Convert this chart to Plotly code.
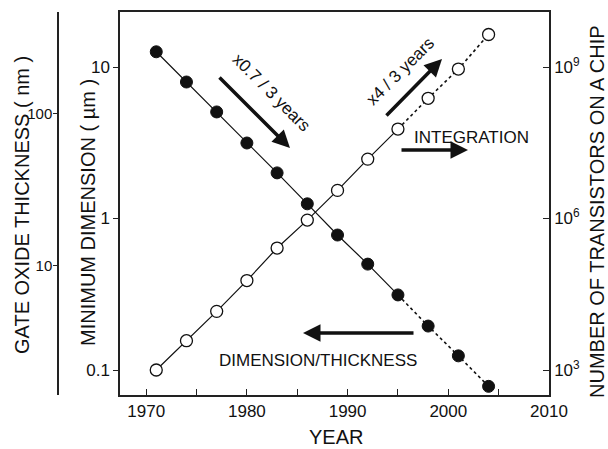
import plotly.graph_objects as go

years = [1971, 1974, 1977, 1980, 1983, 1986, 1989, 1992, 1995, 1998, 2001, 2004]
min_dim_um = [12.6, 7.96, 5.05, 3.15, 2.0, 1.25, 0.778, 0.50, 0.313, 0.195, 0.124, 0.078]
transistors = [1.0e3, 3.8e3, 1.45e4, 5.9e4, 2.6e5, 9.3e5, 3.6e6, 1.5e7, 5.9e7, 2.4e8, 9.1e8, 4.4e9]
split = 8  # solid up to 1995, dotted afterwards

x_ticks = [1970, 1980, 1990, 2000, 2010]
x_ticktext = ["1970", "1980", "1990", "2000", "2010"]
x_minor = [1975, 1985, 1995, 2005]
dim_ticks = [0.1, 1, 10]
dim_ticktext = ["0.1", "1", "10"]
ox_ticks = [10, 100]
ox_ticktext = ["10", "100"]
tr_ticks = [1e3, 1e6, 1e9]
tr_ticktext = ["10<sup>3</sup>", "10<sup>6</sup>", "10<sup>9</sup>"]

W, H = 608, 449
L, R, T, B = 120, 549, 12, 395
OX_X = 59
FONT = "Liberation Sans, Arial, Helvetica, sans-serif"
INK = "#111111"

dim_range = [-1.165, 1.363]
ox_shift = 1.31
tr_range = [3 * dim_range[0] + 6, 3 * dim_range[1] + 6]


def px(x):
    return x / W


def py(y):
    return (B - y) / (B - T)


fig = go.Figure()

line_style = dict(color=INK, width=1.2)
dot_style = dict(color=INK, width=1.6, dash="dot")
fig.add_trace(go.Scatter(x=years[:split + 1], y=min_dim_um[:split + 1], mode="lines",
                         line=line_style, xaxis="x", yaxis="y", showlegend=False))
fig.add_trace(go.Scatter(x=years[split:], y=min_dim_um[split:], mode="lines",
                         line=dot_style, xaxis="x", yaxis="y", showlegend=False))
fig.add_trace(go.Scatter(x=years[:split + 1], y=transistors[:split + 1], mode="lines",
                         line=line_style, xaxis="x", yaxis="y2", showlegend=False))
fig.add_trace(go.Scatter(x=years[split:], y=transistors[split:], mode="lines",
                         line=dot_style, xaxis="x", yaxis="y2", showlegend=False))
fig.add_trace(go.Scatter(x=years, y=transistors, mode="markers", xaxis="x", yaxis="y2",
                         marker=dict(size=12, color="white", line=dict(color=INK, width=1.3)),
                         showlegend=False))
fig.add_trace(go.Scatter(x=years, y=min_dim_um, mode="markers", xaxis="x", yaxis="y",
                         marker=dict(size=12, color=INK, line=dict(color=INK, width=1)),
                         showlegend=False))
# empty trace that activates the gate-oxide axis
fig.add_trace(go.Scatter(x=[None], y=[None], xaxis="x2", yaxis="y3", showlegend=False))

axis_common = dict(showgrid=False, zeroline=False, showline=True, linecolor="#222222",
                   linewidth=1.5, tickcolor="#222222", tickwidth=1.3, automargin=False)
tick17 = dict(family=FONT, size=17, color=INK)

fig.update_layout(
    width=W, height=H,
    margin=dict(l=0, r=0, t=T, b=H - B),
    paper_bgcolor="white", plot_bgcolor="rgba(0,0,0,0)",
    xaxis=dict(domain=[L / W, R / W], range=[1967.4, 2010.0], tickvals=x_ticks,
               ticktext=x_ticktext, ticks="inside", ticklen=6, mirror=True, anchor="y",
               tickfont=tick17,
               minor=dict(tickvals=x_minor, ticks="inside", ticklen=6, tickwidth=1.3,
                          tickcolor="#222222", showgrid=False),
               **axis_common),
    xaxis2=dict(domain=[OX_X / W, R / W], range=[0, 1], visible=False, anchor="y3"),
    yaxis=dict(type="log", range=dim_range, tickvals=dim_ticks, ticktext=dim_ticktext,
               ticks="outside", ticklen=5, anchor="x", tickfont=tick17, **axis_common),
    yaxis2=dict(type="log", range=tr_range, tickvals=tr_ticks, ticktext=tr_ticktext,
                ticks="inside", ticklen=6, overlaying="y", side="right", anchor="x",
                tickfont=tick17, **axis_common),
    yaxis3=dict(type="log", range=[dim_range[0] + ox_shift, dim_range[1] + ox_shift],
                tickvals=ox_ticks, ticktext=ox_ticktext, ticks="outside", ticklen=4,
                side="left", anchor="x2", ticklabelstandoff=-2,
                tickfont=dict(family=FONT, size=15, color=INK), **axis_common),
)

ann = []
C = dict(xref="paper", yref="paper", showarrow=False, xanchor="center", yanchor="middle")
title_font = dict(family=FONT, size=20, color=INK)
ann.append(dict(text="YEAR", x=px(336), y=py(437), font=title_font, **C))
ann.append(dict(text="MINIMUM DIMENSION ( µm )", x=px(88), y=py(213), textangle=-90,
                font=title_font, **C))
ann.append(dict(text="GATE OXIDE THICKNESS ( nm )", x=px(22), y=py(205), textangle=-90,
                font=title_font, **C))
ann.append(dict(text="NUMBER OF TRANSISTORS ON A CHIP", x=px(597), y=py(212), textangle=-90,
                font=title_font, **C))

lab_font = dict(family=FONT, size=17, color=INK)
ann.append(dict(text="x0.7 / 3 years", x=px(271), y=py(93), textangle=45, font=lab_font, **C))
ann.append(dict(text="x4 / 3 years", x=px(400), y=py(71), textangle=-45, font=lab_font, **C))
ann.append(dict(text="INTEGRATION", x=px(471), y=py(137), font=lab_font, **C))
ann.append(dict(text="DIMENSION/THICKNESS", x=px(318), y=py(360), font=lab_font, **C))


def arrow(x0, y0, x1, y1):
    return dict(text="", x=px(x1), y=py(y1), xref="paper", yref="paper",
                ax=x0 - x1, ay=y0 - y1, axref="pixel", ayref="pixel",
                showarrow=True, arrowhead=2, arrowsize=1.0, arrowwidth=3.5,
                arrowcolor=INK, standoff=0, startstandoff=0)


ann.append(arrow(218, 76, 290, 148))
ann.append(arrow(385, 117, 442, 59))
ann.append(arrow(400, 150, 468, 150))
ann.append(arrow(415, 333, 303, 333))

fig.update_layout(annotations=ann)
fig.write_html("out.html")
